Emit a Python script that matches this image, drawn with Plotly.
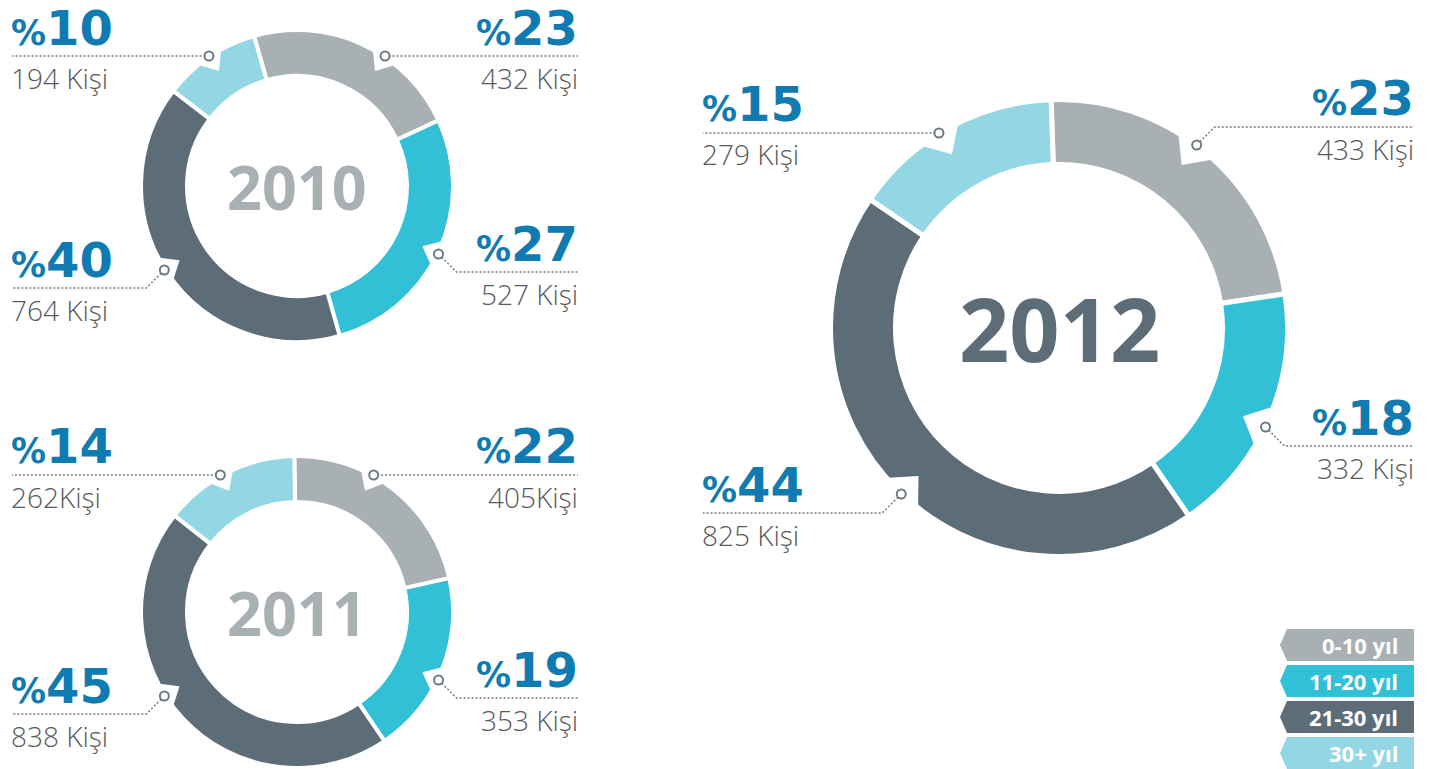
import math
import plotly.graph_objects as go

W, H = 1432, 769

# ---------------- data ----------------
categories = ["0-10 yıl", "11-20 yıl", "21-30 yıl", "30+ yıl"]
years = ["2010", "2011", "2012"]

people_2010 = [432, 527, 764, 194]
people_2011 = [405, 353, 838, 262]
people_2012 = [433, 332, 825, 279]

percent_2010 = [23, 27, 40, 10]
percent_2011 = [22, 19, 45, 14]
percent_2012 = [23, 18, 44, 15]

people_text_2010 = ["432 Kişi", "527 Kişi", "764 Kişi", "194 Kişi"]
people_text_2011 = ["405Kişi", "353 Kişi", "838 Kişi", "262Kişi"]
people_text_2012 = ["433 Kişi", "332 Kişi", "825 Kişi", "279 Kişi"]

# ---------------- styles / layout ----------------
seg_colors = ["#a9b0b3", "#31c0d6", "#5c6d78", "#93d6e4"]
BLUE = "#0f7bb1"
TEXT_GRAY = "#58595b"
LEADER = "#6d7b85"
FONT = "Open Sans"
NUM_FONT = "DejaVu Sans"

charts = [
    dict(year=years[0], values=people_2010, pct=percent_2010, ptxt=people_text_2010,
         cx=297, cy=186, R=154, r_in=112, gap=4, rot=-16,
         ycolor="#a9b0b3", ysize=61, notch_d=15, notch_w=9, colL=12, colR=578,
         leaders=[("R", 56, 0), ("R", 272, -18), ("L", 288, -18), ("L", 56, 0)]),
    dict(year=years[1], values=people_2011, pct=percent_2011, ptxt=people_text_2011,
         cx=297, cy=612, R=154, r_in=112, gap=4, rot=-1,
         ycolor="#a9b0b3", ysize=61, notch_d=15, notch_w=9, colL=12, colR=578,
         leaders=[("R", 475, 0), ("R", 698, -18), ("L", 714, -18), ("L", 475, 0)]),
    dict(year=years[2], values=people_2012, pct=percent_2012, ptxt=people_text_2012,
         cx=1059, cy=328, R=226, r_in=166, gap=5, rot=-2,
         ycolor="#5c6d78", ysize=88, notch_d=22, notch_w=10, colL=703, colR=1414,
         leaders=[("R", 127, 18), ("R", 446, -19), ("L", 513, -19), ("L", 133, 0)]),
]


def P(x, y):
    return x / W, 1 - y / H


fig = go.Figure()
notch_shapes, marker_shapes, line_shapes, legend_shapes = [], [], [], []
annotations = []

for ch in charts:
    cx, cy, R = ch["cx"], ch["cy"], ch["R"]
    Rd = R + ch["gap"] / 2
    hole = (ch["r_in"] - ch["gap"] / 2) / Rd
    fig.add_trace(go.Pie(
        labels=categories, values=ch["values"], sort=False, direction="clockwise",
        rotation=ch["rot"], hole=hole, textinfo="none", showlegend=False,
        name=ch["year"],
        marker=dict(colors=seg_colors, line=dict(color="white", width=ch["gap"])),
        domain=dict(x=[(cx - Rd) / W, (cx + Rd) / W],
                    y=[max(0, 1 - (cy + Rd) / H), min(1, 1 - (cy - Rd) / H)]),
        hovertemplate="%{label}: %{value} Kişi (%{percent})<extra>" + ch["year"] + "</extra>",
    ))

    def pt(r, a, cx=cx, cy=cy):
        return cx + r * math.sin(a), cy - r * math.cos(a)

    for i, (side, ly, dy) in enumerate(ch["leaders"]):
        s = 1 if side == "R" else -1
        rm = R + 3
        my = ly + dy
        mx = cx + s * math.sqrt(rm ** 2 - (my - cy) ** 2)
        th = math.atan2(mx - cx, -(my - cy))

        # notch cut into the outer edge
        hw = math.radians(ch["notch_w"] / 2)
        D = pt(R - ch["notch_d"], th)
        O1 = pt(R, th - hw)
        O2 = pt(R, th + hw)
        E1 = (D[0] + 1.5 * (O1[0] - D[0]), D[1] + 1.5 * (O1[1] - D[1]))
        E2 = (D[0] + 1.5 * (O2[0] - D[0]), D[1] + 1.5 * (O2[1] - D[1]))
        pts = [P(*D), P(*E1), P(*E2)]
        path = "M {},{} L {},{} L {},{} Z".format(*[c for p in pts for c in p])
        notch_shapes.append(dict(type="path", xref="paper", yref="paper", path=path,
                                 fillcolor="white", line=dict(width=0), layer="above"))

        # marker ring
        mr = 4.5
        x0, y1 = P(mx - mr, my - mr)
        x1, y0 = P(mx + mr, my + mr)
        marker_shapes.append(dict(type="circle", xref="paper", yref="paper",
                                  x0=x0, x1=x1, y0=y0, y1=y1, fillcolor="white",
                                  line=dict(color=LEADER, width=2), layer="above"))

        # leader line
        kx, ky = mx + s * abs(dy), ly
        if dy == 0:
            sx, sy = mx + s * mr, my
        else:
            L = math.hypot(kx - mx, ky - my)
            sx, sy = mx + (kx - mx) / L * mr, my + (ky - my) / L * mr
        ex = ch["colR"] if side == "R" else ch["colL"]
        pp = [P(sx, sy), P(kx, ky), P(ex, ly)]
        path = "M {},{} L {},{} L {},{}".format(*[c for p in pp for c in p])
        line_shapes.append(dict(type="path", xref="paper", yref="paper", path=path,
                                line=dict(color=LEADER, width=1.5, dash="2px,2px"),
                                layer="above"))

        # labels
        anchor = "right" if side == "R" else "left"
        tx = ex + (2 if side == "R" else -3)
        annotations.append(dict(
            x=tx / W, y=1 - (ly - 28.5) / H, xref="paper", yref="paper",
            xanchor=anchor, yanchor="middle", showarrow=False,
            text="<span style='font-size:35px'>%</span>{}".format(ch["pct"][i]),
            font=dict(family=NUM_FONT, size=48, color=BLUE, weight=700)))
        annotations.append(dict(
            x=tx / W, y=1 - (ly + 21.5) / H, xref="paper", yref="paper",
            xanchor=anchor, yanchor="middle", showarrow=False,
            text=ch["ptxt"][i],
            font=dict(family=FONT, size=28, color=TEXT_GRAY, weight=300)))

    annotations.append(dict(
        x=cx / W, y=1 - cy / H, xref="paper", yref="paper", xanchor="center",
        yanchor="middle", showarrow=False, text=ch["year"],
        font=dict(family=FONT, size=ch["ysize"], color=ch["ycolor"], weight=700)))

# legend tags
for k, cat in enumerate(categories):
    top = 629 + 36 * k
    bot = top + 32
    mid = (top + bot) / 2
    pts = [P(1280, mid), P(1287, top), P(1414, top), P(1414, bot), P(1287, bot)]
    path = "M {},{} L {},{} L {},{} L {},{} L {},{} Z".format(*[c for p in pts for c in p])
    legend_shapes.append(dict(type="path", xref="paper", yref="paper", path=path,
                              fillcolor=seg_colors[k], line=dict(width=0), layer="above"))
    annotations.append(dict(
        x=1400 / W, y=1 - mid / H, xref="paper", yref="paper", xanchor="right",
        yanchor="middle", showarrow=False, text=cat,
        font=dict(family=FONT, size=22, color="white", weight=700)))

fig.update_layout(
    width=W, height=H, margin=dict(l=0, r=0, t=0, b=0),
    paper_bgcolor="white", plot_bgcolor="white", showlegend=False,
    shapes=notch_shapes + line_shapes + marker_shapes + legend_shapes,
    annotations=annotations,
)

fig.write_html("out.html", config={"displayModeBar": False},
               post_script="document.body.style.margin='0';")
